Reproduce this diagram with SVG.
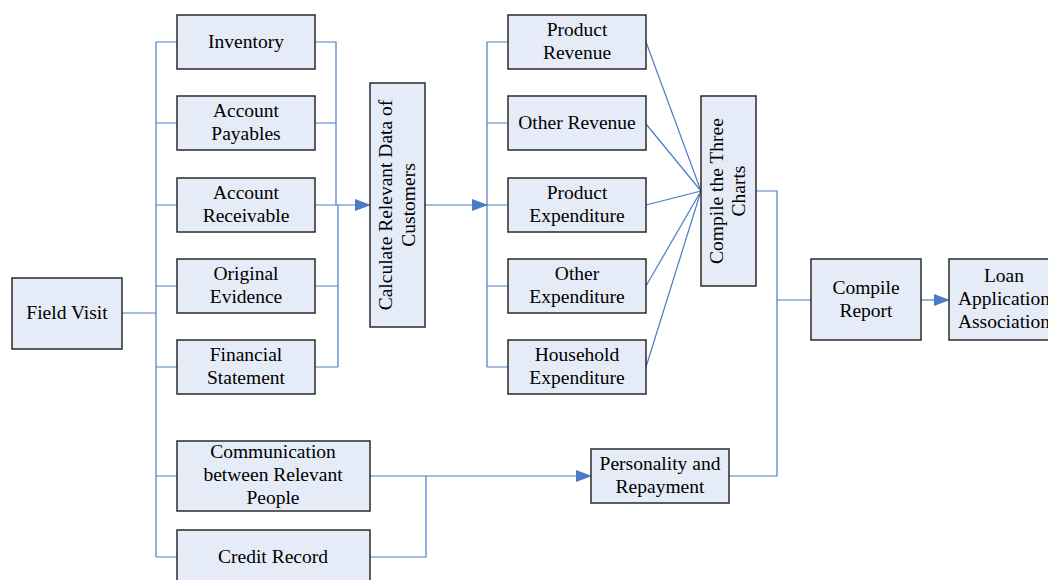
<svg xmlns="http://www.w3.org/2000/svg" width="1048" height="580" viewBox="0 0 1048 580">
<defs>
<marker id="arr" markerUnits="userSpaceOnUse" markerWidth="16" markerHeight="12" refX="15" refY="6" orient="auto">
<path d="M0,0 L16,6 L0,12 Z" fill="#4A7CC6"/>
</marker>
<style>
.box{fill:#E6ECF7;stroke:#2a2a2a;stroke-width:1.5}
.t{font-family:"Liberation Serif","Times New Roman",serif;font-size:19.5px;fill:#000;text-anchor:middle}
.c{fill:none;stroke:#4A7CC6;stroke-width:1.2}
</style>
</defs>
<rect width="1048" height="580" fill="#fff"/>
<g id="connectors">
<path class="c" d="M122,313 H156 M156,42 V557 M156,42 H177 M156,123 H177 M156,205 H177 M156,286 H177 M156,367 H177 M156,476 H177 M156,557 H177"/>
<path class="c" d="M315,42 H336 V205 M315,123 H336 M338,205 V367 M315,286 H338 M315,367 H338"/>
<path class="c" d="M315,205 H370" marker-end="url(#arr)"/>
<path class="c" d="M425,205 H487" marker-end="url(#arr)"/>
<path class="c" d="M487,42 V367 M487,42 H508 M487,123 H508 M487,205 H508 M487,286 H508 M487,367 H508"/>
<path class="c" d="M646,42 L701,191 M646,124 L701,191 M646,205 L701,191 M646,286 L701,191 M646,367 L701,191"/>
<path class="c" d="M756,191 H777 V476 H729 M777,300 H811"/>
<path class="c" d="M921,300 H949" marker-end="url(#arr)"/>
<path class="c" d="M370,476 H591" marker-end="url(#arr)"/>
<path class="c" d="M370,557 H426 V476"/>
</g>
<g id="field-visit"><rect class="box" x="12" y="278" width="110" height="71"/><text class="t" x="67" y="319">Field Visit</text></g>
<g id="inventory"><rect class="box" x="177" y="15" width="138" height="54"/><text class="t" x="246" y="48">Inventory</text></g>
<g id="account-payables"><rect class="box" x="177" y="96" width="138" height="54"/><text class="t" x="246" y="117">Account</text><text class="t" x="246" y="140">Payables</text></g>
<g id="account-receivable"><rect class="box" x="177" y="178" width="138" height="54"/><text class="t" x="246" y="199">Account</text><text class="t" x="246" y="222">Receivable</text></g>
<g id="original-evidence"><rect class="box" x="177" y="259" width="138" height="54"/><text class="t" x="246" y="280">Original</text><text class="t" x="246" y="303">Evidence</text></g>
<g id="financial-statement"><rect class="box" x="177" y="340" width="138" height="54"/><text class="t" x="246" y="361">Financial</text><text class="t" x="246" y="384">Statement</text></g>
<g id="communication"><rect class="box" x="177" y="441" width="193" height="70"/><text class="t" x="273" y="458">Communication</text><text class="t" x="273" y="481">between Relevant</text><text class="t" x="273" y="504">People</text></g>
<g id="credit-record"><rect class="box" x="177" y="530" width="193" height="60"/><text class="t" x="273" y="563">Credit Record</text></g>
<g id="calculate"><rect class="box" x="370" y="83" width="55" height="244"/><text class="t" transform="translate(392,205) rotate(-90)">Calculate Relevant Data of</text><text class="t" transform="translate(415,205) rotate(-90)">Customers</text></g>
<g id="product-revenue"><rect class="box" x="508" y="15" width="138" height="54"/><text class="t" x="577" y="36">Product</text><text class="t" x="577" y="59">Revenue</text></g>
<g id="other-revenue"><rect class="box" x="508" y="96" width="138" height="54"/><text class="t" x="577" y="129">Other Revenue</text></g>
<g id="product-expenditure"><rect class="box" x="508" y="178" width="138" height="54"/><text class="t" x="577" y="199">Product</text><text class="t" x="577" y="222">Expenditure</text></g>
<g id="other-expenditure"><rect class="box" x="508" y="259" width="138" height="54"/><text class="t" x="577" y="280">Other</text><text class="t" x="577" y="303">Expenditure</text></g>
<g id="household-expenditure"><rect class="box" x="508" y="340" width="138" height="54"/><text class="t" x="577" y="361">Household</text><text class="t" x="577" y="384">Expenditure</text></g>
<g id="compile-charts"><rect class="box" x="701" y="96" width="55" height="190"/><text class="t" transform="translate(723,191) rotate(-90)">Compile the Three</text><text class="t" transform="translate(745,191) rotate(-90)">Charts</text></g>
<g id="compile-report"><rect class="box" x="811" y="259" width="110" height="81"/><text class="t" x="866" y="294">Compile</text><text class="t" x="866" y="317">Report</text></g>
<g id="loan-application"><rect class="box" x="949" y="259" width="110" height="81"/><text class="t" x="1004" y="282">Loan</text><text class="t" x="1004" y="305">Application</text><text class="t" x="1004" y="328">Association</text></g>
<g id="personality"><rect class="box" x="591" y="449" width="138" height="54"/><text class="t" x="660" y="470">Personality and</text><text class="t" x="660" y="493">Repayment</text></g>
</svg>
